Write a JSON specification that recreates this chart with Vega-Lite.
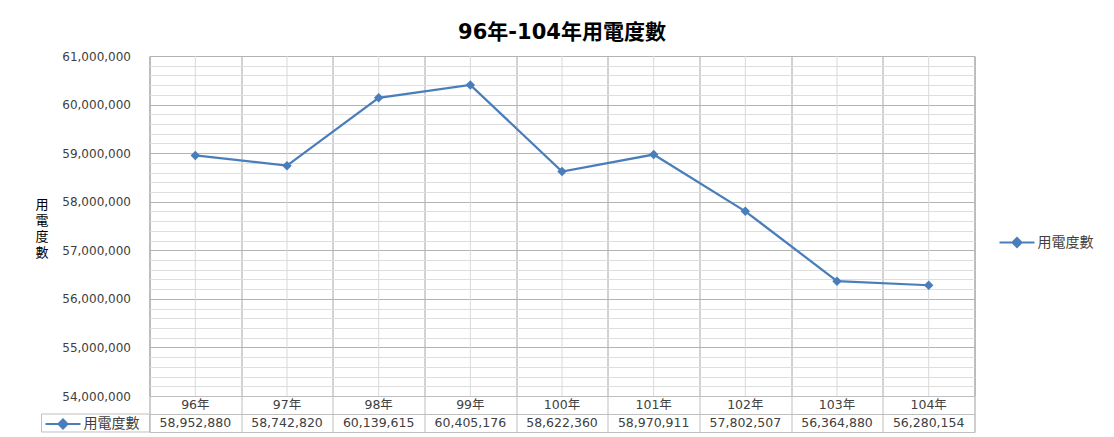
{
  "$schema": "https://vega.github.io/schema/vega-lite/v6.json",
  "padding": {"left": 33.5, "top": 21, "right": 10, "bottom": 4},
  "background": "white",
  "datasets": {
    "power": [
      {"year": "96年", "value": 58952880},
      {"year": "97年", "value": 58742820},
      {"year": "98年", "value": 60139615},
      {"year": "99年", "value": 60405176},
      {"year": "100年", "value": 58622360},
      {"year": "101年", "value": 58970911},
      {"year": "102年", "value": 57802507},
      {"year": "103年", "value": 56364880},
      {"year": "104年", "value": 56280154}
    ]
  },
  "columns": 2,
  "spacing": 0,
  "bounds": "flush",
  "concat": [
    {
      "width": 108,
      "height": 340,
      "view": {"stroke": null},
      "data": {"values": []},
      "mark": {"type": "text"}
    },
    {
      "width": 825,
      "height": 340,
      "data": {"name": "power"},
      "title": {"text": "96年-104年用電度數", "fontSize": 21, "fontWeight": "bold", "color": "#000000", "anchor": "middle", "frame": "group", "baseline": "bottom", "offset": -14},
      "encoding": {
        "x": {
          "field": "year", "type": "nominal", "sort": null,
          "scale": {"paddingInner": 0, "paddingOuter": 0},
          "axis": {"title": null, "labels": false, "ticks": false, "domain": false, "grid": true, "tickBand": "extent", "gridColor": "#a6a6a6", "gridWidth": 1}
        }
      },
      "layer": [
        {
          "mark": {"type": "rule", "color": "#d9d9d9", "strokeWidth": 1}
        },
        {
          "mark": {"type": "line", "strokeWidth": 2.25, "point": {"shape": "diamond", "size": 90, "filled": true}},
          "encoding": {
            "y": {
              "field": "value", "type": "quantitative",
              "scale": {"domain": [54000000, 61000000], "nice": false, "zero": false},
              "axis": {
                "values": [54000000, 54200000, 54400000, 54600000, 54800000, 55000000, 55200000, 55400000, 55600000, 55800000, 56000000, 56200000, 56400000, 56600000, 56800000, 57000000, 57200000, 57400000, 57600000, 57800000, 58000000, 58200000, 58400000, 58600000, 58800000, 59000000, 59200000, 59400000, 59600000, 59800000, 60000000, 60200000, 60400000, 60600000, 60800000, 61000000],
                "labelExpr": "datum.value % 1000000 === 0 ? format(datum.value, ',') : ''",
                "labelOverlap": false,
                "ticks": false,
                "domain": false,
                "grid": true,
                "gridColor": {"condition": {"test": "datum.value % 1000000 === 0", "value": "#b3b3b3"}, "value": "#dedede"},
                "labelFontSize": 12,
                "labelColor": "#404040",
                "labelPadding": 19,
                "title": ["用", "電", "度", "數"],
                "titleAngle": 0,
                "titleX": -108,
                "titleY": 148,
                "titleAlign": "center",
                "titleBaseline": "middle",
                "titleFontSize": 13,
                "titleFontWeight": "normal",
                "titleColor": "#000000",
                "titleLineHeight": 16
              }
            },
            "color": {
              "datum": "用電度數", "type": "nominal",
              "scale": {"range": ["#4A7EBB"]},
              "legend": {
                "title": null, "orient": "none", "legendX": 849, "legendY": 168, "padding": 0,
                "symbolType": "M-1,0H1M-0.26,0L0,-0.26L0.26,0L0,0.26Z", "symbolSize": 1225,
                "labelFontSize": 14, "labelColor": "#404040", "labelOffset": 2,
                "encode": {"symbols": {"update": {"fill": {"value": "#4A7EBB"}, "stroke": {"value": "#4A7EBB"}, "strokeWidth": {"value": 2}, "opacity": {"value": 1}}}}
              }
            }
          }
        }
      ]
    },
    {
      "width": 108,
      "height": 36,
      "view": {"stroke": null},
      "data": {"values": [{"row": "v"}]},
      "layer": [
        {
          "mark": {"type": "rect", "fill": "white", "stroke": "#bfbfbf", "strokeWidth": 1},
          "encoding": {
            "y": {"field": "row", "type": "nominal", "scale": {"domain": ["h", "v"], "paddingInner": 0, "paddingOuter": 0}, "axis": null}
          }
        },
        {
          "mark": {"type": "point", "opacity": 0, "filled": true},
          "encoding": {
            "color": {
              "datum": "用電度數", "type": "nominal",
              "scale": {"range": ["#4A7EBB"]},
              "legend": {
                "title": null, "orient": "none", "legendX": 3, "legendY": 9.5, "padding": 0,
                "symbolType": "M-1,0H1M-0.26,0L0,-0.26L0.26,0L0,0.26Z", "symbolSize": 1225,
                "labelFontSize": 14, "labelColor": "#404040", "labelOffset": 2,
                "encode": {"symbols": {"update": {"fill": {"value": "#4A7EBB"}, "stroke": {"value": "#4A7EBB"}, "strokeWidth": {"value": 2}, "opacity": {"value": 1}}}}
              }
            }
          }
        }
      ]
    },
    {
      "width": 825,
      "height": 36,
      "view": {"stroke": "#bfbfbf"},
      "data": {"name": "power"},
      "encoding": {
        "x": {
          "field": "year", "type": "nominal", "sort": null,
          "scale": {"paddingInner": 0, "paddingOuter": 0},
          "axis": {"title": null, "labels": false, "ticks": false, "domain": false, "grid": true, "tickBand": "extent", "gridColor": "#bfbfbf"}
        }
      },
      "layer": [
        {
          "mark": {"type": "text", "fontSize": 12.5, "color": "#404040"},
          "encoding": {
            "y": {"datum": "h", "type": "nominal", "scale": {"domain": ["h", "v"], "paddingInner": 0, "paddingOuter": 0},
              "axis": {"title": null, "labels": false, "ticks": false, "domain": false, "grid": true, "tickBand": "extent", "gridColor": "#bfbfbf"}},
            "text": {"field": "year", "type": "nominal"}
          }
        },
        {
          "mark": {"type": "text", "fontSize": 12.5, "color": "#404040"},
          "encoding": {
            "y": {"datum": "v", "type": "nominal"},
            "text": {"field": "value", "type": "quantitative", "format": ","}
          }
        }
      ]
    }
  ],
  "resolve": {
    "scale": {"color": "independent", "x": "independent", "y": "independent"},
    "legend": {"color": "independent"}
  },
  "config": {
    "font": "DejaVu Sans, 'Noto Sans CJK TC', sans-serif",
    "view": {"stroke": "#a6a6a6"}
  }
}
